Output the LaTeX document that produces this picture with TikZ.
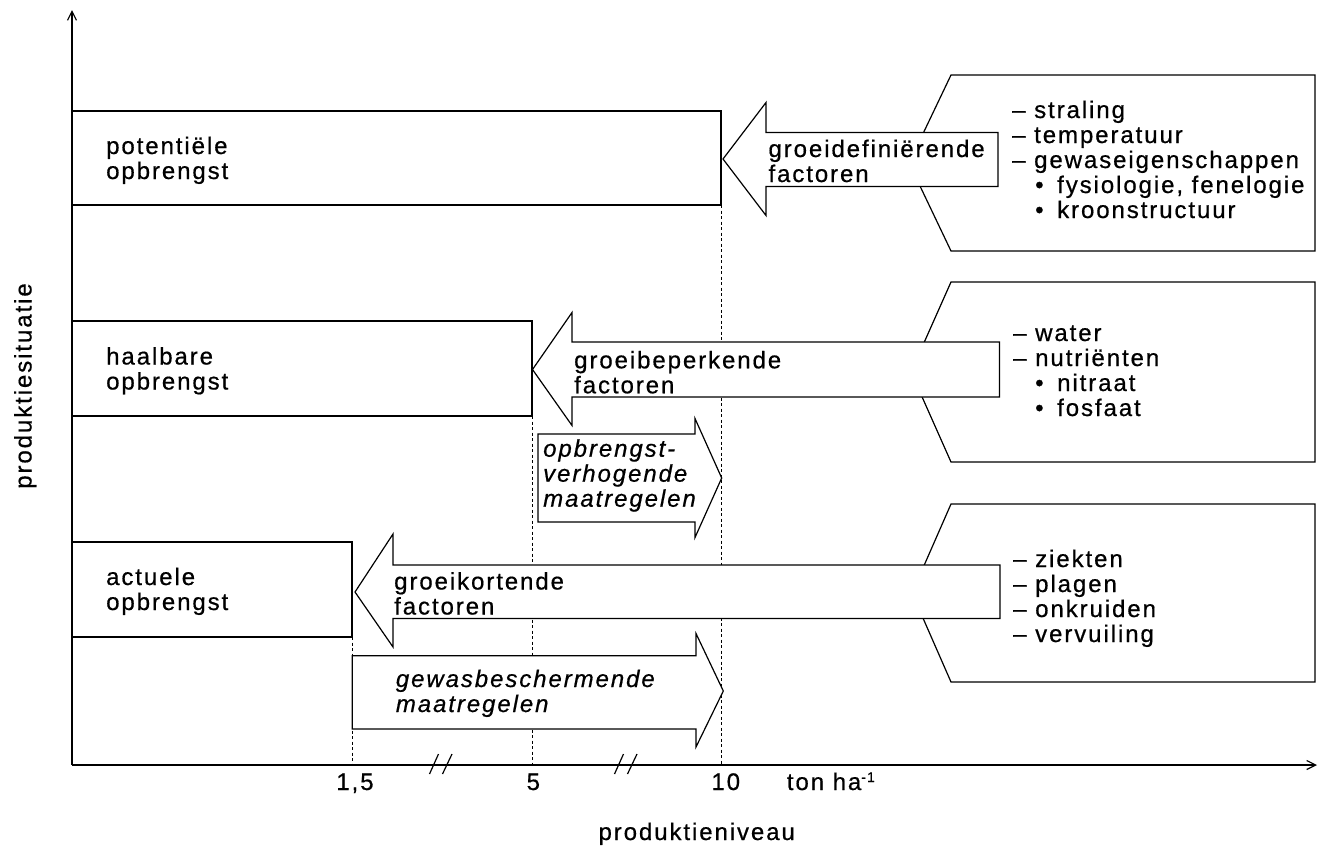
\documentclass[tikz,border=0pt]{standalone}
\usepackage{fontspec}
\setmainfont{Liberation Sans}[LetterSpace=8,FakeBold=0.6]
\usetikzlibrary{arrows.meta}
\begin{document}
\begin{tikzpicture}[x=1pt,y=-1pt,
  outline/.style={draw=black,line width=1.2pt,line join=miter},
  fat/.style={outline,fill=white},
  guide/.style={draw=black,line width=1pt,dash pattern=on 3pt off 2.5pt},
  lbl/.style={inner sep=0pt,align=left,font=\fontsize{24}{25}\selectfont},
  ilbl/.style={inner sep=0pt,align=left,font=\fontsize{24}{25}\selectfont\itshape},
  axisline/.style={draw=black,line width=1.2pt,-{Straight Barb[length=9pt,width=9pt]}}
]
\useasboundingbox (0,0) rectangle (1320,847);
% axes
\coordinate (O) at (72,765);
\coordinate (ytop) at (72,10);
\coordinate (xend) at (1317,765);
% guides
\draw[guide] (721,205) -- (721,765);
\draw[guide] (532,416) -- (532,765);
\draw[guide] (352,637) -- (352,765);
\draw[axisline] (O) -- (ytop);
\draw[axisline] (O) -- (xend);
% axis breaks
\draw[outline] (429.5,774) -- (438.5,754) (442.5,774) -- (452,754);
\draw[outline] (614.5,774) -- (623.5,754) (627.5,774) -- (637,754);
% yield boxes
\draw[outline] (72,111) -- (721,111) -- (721,205) -- (72,205);
\draw[outline] (72,321) -- (532,321) -- (532,416) -- (72,416);
\draw[outline] (72,542) -- (352,542) -- (352,637) -- (72,637);
% factor boxes
\draw[outline,fill=white] (951,75) -- (1315,75) -- (1315,251) -- (951,251) -- (909,163) -- cycle;
\draw[outline,fill=white] (951,282) -- (1315,282) -- (1315,462) -- (951,462) -- (911,372) -- cycle;
\draw[outline,fill=white] (951,504) -- (1315,504) -- (1315,682) -- (951,682) -- (912,593) -- cycle;
% fat arrows
\draw[fat] (723,159) -- (766,102.5) -- (766,132.5) -- (998,132.5) -- (998,186.5) -- (766,186.5) -- (766,215.5) -- cycle;
\draw[fat] (532.5,369.5) -- (572,312.5) -- (572,342) -- (999.5,342) -- (999.5,397) -- (572,397) -- (572,425.5) -- cycle;
\draw[fat] (355,592) -- (393,534) -- (393,565) -- (1000,565) -- (1000,618.5) -- (393,618.5) -- (393,647) -- cycle;
\draw[fat] (538,434) -- (695,434) -- (695,418.5) -- (721.7,478) -- (695,537.5) -- (695,522) -- (538,522) -- cycle;
\draw[fat] (352.3,655.7) -- (696,655.7) -- (696,633.5) -- (723.3,691) -- (696,747) -- (696,729) -- (352.3,729) -- cycle;
% labels in boxes (base anchor = baseline of last line)
\node[lbl,anchor=base west] (pot) at (106,179) {potentiële\\opbrengst};
\node[lbl,anchor=base west] (haal) at (106,389.5) {haalbare\\opbrengst};
\node[lbl,anchor=base west] (act) at (106,610) {actuele\\opbrengst};
% labels in arrows
\node[lbl,anchor=base west] (gdf) at (768.3,182) {groeidefiniërende\\factoren};
\node[lbl,anchor=base west] (gbp) at (574,393.3) {groeibeperkende\\factoren};
\node[lbl,anchor=base west] (gko) at (394,614.5) {groeikortende\\factoren};
\node[ilbl,anchor=base west] (ovm) at (543,506.7) {opbrengst-\\verhogende\\maatregelen};
\node[ilbl,anchor=base west] (gbm) at (395.7,712) {gewasbeschermende\\maatregelen};
% factor lists
\node[lbl,anchor=base west] (f1) at (1012,218) {\makebox[22pt][l]{–}straling\\
\makebox[22pt][l]{–}temperatuur\\
\makebox[22pt][l]{–}gewaseigenschappen\\
\hspace*{23pt}\makebox[22pt][l]{•}fysiologie, fenelogie\\
\hspace*{23pt}\makebox[22pt][l]{•}kroonstructuur};
\node[lbl,anchor=base west] (f2) at (1013,416) {\makebox[22pt][l]{–}water\\
\makebox[22pt][l]{–}nutriënten\\
\hspace*{22pt}\makebox[22pt][l]{•}nitraat\\
\hspace*{22pt}\makebox[22pt][l]{•}fosfaat};
\node[lbl,anchor=base west] (f3) at (1013,642) {\makebox[22pt][l]{–}ziekten\\
\makebox[22pt][l]{–}plagen\\
\makebox[22pt][l]{–}onkruiden\\
\makebox[22pt][l]{–}vervuiling};
% axis labels
\node[lbl,anchor=base] (t15) at (355,790) {1,5};
\node[lbl,anchor=base] (t5) at (533.3,790) {5};
\node[lbl,anchor=base] (t10) at (725.8,790) {10};
\node[lbl,anchor=base west] (unit) at (786.7,790) {ton ha\raisebox{8pt}{\fontsize{14}{14}\selectfont -1}};
\node[lbl,anchor=base] (xlab) at (696.7,840) {produktieniveau};
\node[lbl,anchor=base,rotate=90] (ylab) at (31.5,386) {produktiesituatie};
\end{tikzpicture}
\end{document}
